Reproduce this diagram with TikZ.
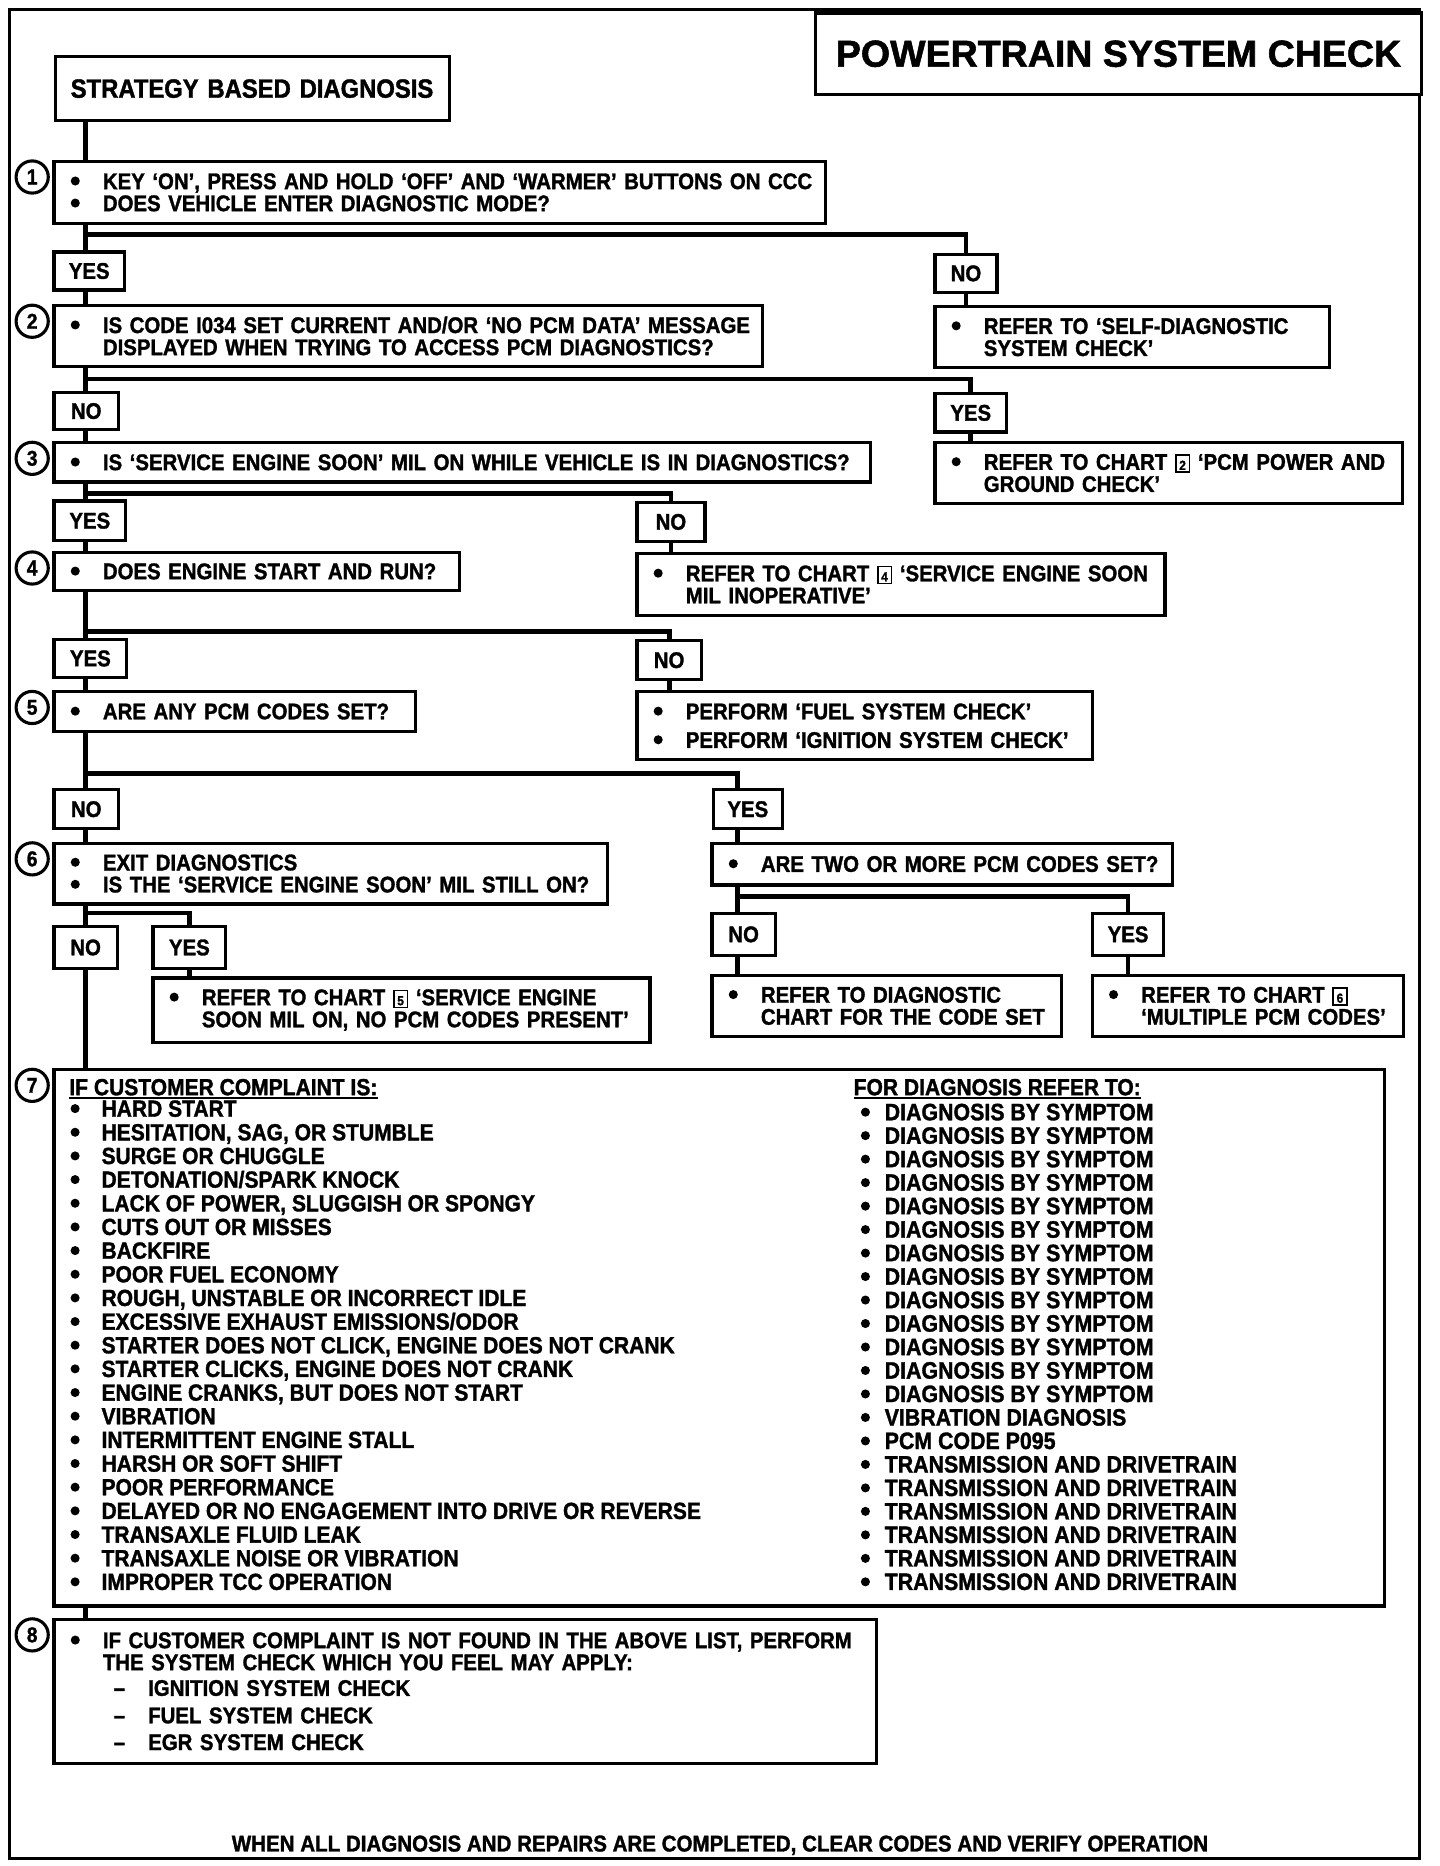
\documentclass[tikz,border=0pt]{standalone}
\usepackage{fontspec}
\setmainfont{Liberation Sans}[FakeStretch=0.9, BoldFeatures={FakeBold=1.4}]
\newfontfamily\ttlfam{Liberation Sans}[BoldFeatures={FakeBold=1.4}]
\usetikzlibrary{calc}

\newcommand\bodyfont{\fontsize{19}{18.5}\selectfont\bfseries}
\newcommand\listfont{\fontsize{19.6}{18.5}\selectfont\bfseries}
\newcommand\rlistfont{\fontsize{19.9}{18.5}\selectfont\bfseries}
\newcommand\dotb{\tikz[baseline=0pt]\fill (0pt,0pt) ++(3.8pt,6.8pt) circle[radius=3.8pt];}
\newcommand\bl[1]{\mbox{\makebox[27pt][l]{\dotb}#1}}
\newcommand\cl[1]{\mbox{\hspace*{27pt}#1}}
\newcommand\dl[1]{\mbox{\hspace*{36pt}\makebox[29pt][l]{\textendash}#1}}
\newcommand\chartno[1]{{\setlength{\fboxsep}{0.6pt}\setlength{\fboxrule}{1.4pt}\fbox{\makebox[9pt][c]{\rule[-0.5pt]{0pt}{11.5pt}\fontsize{11}{11}\selectfont#1}}}}

\tikzset{
 bx/.style={draw, line width=2.7pt, anchor=north west, inner sep=0pt, align=left, font=\bodyfont},
 lbl/.style={draw, line width=2.7pt, anchor=north west, inner sep=0pt, font=\bodyfont},
 conn/.style={line width=4pt},
 num/.style={draw, circle, line width=2.6pt, minimum size=27pt, inner sep=0pt, font=\fontsize{18}{18}\selectfont\bfseries},
 item/.style={anchor=west, inner sep=0pt, text height=13.6pt, text depth=0pt, font=\listfont},
}

\begin{document}
\begin{tikzpicture}[x=1pt,y=-1pt]
\useasboundingbox (0,0) rectangle (1208,1565.4);
\fill[white] (0,0) rectangle (1208,1565.4);
% frame
\draw[line width=2.7pt] (8,8) rectangle (1191,1559);
\node[draw, line width=2.7pt, anchor=north west, minimum width=508pt, minimum height=68.5pt, inner sep=0pt, fill=white, font=\ttlfam\fontsize{31.5}{32}\selectfont\bfseries] (title) at (683,9.5) {POWERTRAIN SYSTEM CHECK};

\coordinate (tr) at (72,0);
\coordinate (tr2) at (619,0);

% left column boxes
\node[bx, minimum width=331pt, minimum height=54pt, text width=305pt, font=\fontsize{22.2}{22}\selectfont\bfseries] (s) at (45,46) {\mbox{STRATEGY BASED DIAGNOSIS}};
\node[bx, minimum width=647pt, minimum height=52pt, text width=619pt] (b1) at (44,134) {\bl{KEY `ON', PRESS AND HOLD `OFF' AND `WARMER' BUTTONS ON CCC}\\\bl{DOES VEHICLE ENTER DIAGNOSTIC MODE?}};
\node[lbl, minimum width=59pt, minimum height=32pt] (yes1) at (44,210) {YES};
\node[lbl, minimum width=52pt, minimum height=32pt] (no1) at (783,212) {NO};
\node[bx, minimum width=331pt, minimum height=51pt, text width=303pt] (r1) at (783,256) {\bl{REFER TO `SELF-DIAGNOSTIC}\\\cl{SYSTEM CHECK'}};

\node[bx, minimum width=594pt, minimum height=51pt, text width=566pt] (b2) at (44,255) {\bl{IS CODE I034 SET CURRENT AND/OR `NO PCM DATA' MESSAGE}\\\cl{DISPLAYED WHEN TRYING TO ACCESS PCM DIAGNOSTICS?}};
\node[lbl, minimum width=54pt, minimum height=31pt] (no2) at (44,328) {NO};
\node[lbl, minimum width=60pt, minimum height=32pt] (yes2) at (783,329) {YES};
\node[bx, minimum width=392pt, minimum height=51pt, text width=364pt] (r2) at (783,370) {\bl{REFER TO CHART \chartno{2} `PCM POWER AND}\\\cl{GROUND CHECK'}};

\node[bx, minimum width=685pt, minimum height=33pt, text width=657pt] (b3) at (44,370) {\bl{IS `SERVICE ENGINE SOON' MIL ON WHILE VEHICLE IS IN DIAGNOSTICS?}};
\node[lbl, minimum width=60pt, minimum height=33pt] (yes3) at (44,419) {YES};
\node[lbl, minimum width=57pt, minimum height=33pt] (no3) at (533,420) {NO};
\node[bx, minimum width=443pt, minimum height=52pt, text width=415pt] (r3) at (533,463) {\bl{REFER TO CHART \chartno{4} `SERVICE ENGINE SOON}\\\cl{MIL INOPERATIVE'}};

\node[bx, minimum width=340pt, minimum height=32pt, text width=312pt] (b4) at (44,462) {\bl{DOES ENGINE START AND RUN?}};
\node[lbl, minimum width=61pt, minimum height=32pt] (yes4) at (44,535) {YES};
\node[lbl, minimum width=54pt, minimum height=33pt] (no4) at (533,536) {NO};
\node[bx, minimum width=382pt, minimum height=57pt, text width=354pt] (r4) at (533,579) {\bl{PERFORM `FUEL SYSTEM CHECK'}\\[5.5pt]\bl{PERFORM `IGNITION SYSTEM CHECK'}};

\node[bx, minimum width=303pt, minimum height=33pt, text width=275pt] (b5) at (44,579) {\bl{ARE ANY PCM CODES SET?}};
\node[lbl, minimum width=54pt, minimum height=33pt] (no5) at (44,661) {NO};
\node[lbl, minimum width=58pt, minimum height=33pt] (yes5) at (597,661) {YES};
\node[bx, minimum width=386pt, minimum height=35pt, text width=358pt] (q) at (596,706) {\bl{ARE TWO OR MORE PCM CODES SET?}};
\node[lbl, minimum width=53pt, minimum height=35pt] (qno) at (596,765) {NO};
\node[lbl, minimum width=60pt, minimum height=35pt] (qyes) at (915,765) {YES};
\node[bx, minimum width=293pt, minimum height=51pt, text width=265pt] (qr1) at (596,817) {\bl{REFER TO DIAGNOSTIC}\\\cl{CHART FOR THE CODE SET}};
\node[bx, minimum width=261pt, minimum height=51pt, text width=233pt] (qr2) at (915,817) {\bl{REFER TO CHART \chartno{6}}\\\cl{`MULTIPLE PCM CODES'}};

\node[bx, minimum width=464pt, minimum height=51pt, text width=436pt] (b6) at (44,706) {\bl{EXIT DIAGNOSTICS}\\\bl{IS THE `SERVICE ENGINE SOON' MIL STILL ON?}};
\node[lbl, minimum width=53pt, minimum height=35pt] (no6) at (44,776) {NO};
\node[lbl, minimum width=61pt, minimum height=35pt] (yes6) at (127,776) {YES};
\node[bx, minimum width=417pt, minimum height=54pt, text width=389pt] (r6) at (127,819) {\bl{REFER TO CHART \chartno{5} `SERVICE ENGINE}\\\cl{SOON MIL ON, NO PCM CODES PRESENT'}};

\node[bx, minimum width=1116pt, minimum height=450pt] (b7) at (44,896) {};
\node[bx, minimum width=690pt, minimum height=121pt, text width=662pt] (b8) at (44,1357) {\bl{IF CUSTOMER COMPLAINT IS NOT FOUND IN THE ABOVE LIST, PERFORM}\\\cl{THE SYSTEM CHECK WHICH YOU FEEL MAY APPLY:}\\[3pt]\dl{IGNITION SYSTEM CHECK}\\[4.5pt]\dl{FUEL SYSTEM CHECK}\\[4pt]\dl{EGR SYSTEM CHECK}};

% circled step numbers
\node[num] (c1) at (27,148.5) {1};
\node[num] (c2) at (27,269.5) {2};
\node[num] (c3) at (27,384.5) {3};
\node[num] (c4) at (27,476.5) {4};
\node[num] (c5) at (27,593.5) {5};
\node[num] (c6) at (27,720.5) {6};
\node[num] (c7) at (27,910.5) {7};
\node[num] (c8) at (27,1371.5) {8};

% list in box 7
\node[item] (h7l) at (58,912) {IF CUSTOMER COMPLAINT IS:};
\draw[line width=1.7pt] ([yshift=-2.5pt]h7l.south west) -- ([yshift=-2.5pt]h7l.south east);
\node[item] (h7r) at (716,912) {FOR DIAGNOSIS REFER TO:};
\draw[line width=1.7pt] ([yshift=-2.5pt]h7r.south west) -- ([yshift=-2.5pt]h7r.south east);

\foreach \t [count=\i] in {HARD START, {HESITATION, SAG, OR STUMBLE}, SURGE OR CHUGGLE, DETONATION/SPARK KNOCK, {LACK OF POWER, SLUGGISH OR SPONGY}, CUTS OUT OR MISSES, BACKFIRE, POOR FUEL ECONOMY, {ROUGH, UNSTABLE OR INCORRECT IDLE}, EXCESSIVE EXHAUST EMISSIONS/ODOR, {STARTER DOES NOT CLICK, ENGINE DOES NOT CRANK}, {STARTER CLICKS, ENGINE DOES NOT CRANK}, {ENGINE CRANKS, BUT DOES NOT START}, VIBRATION, INTERMITTENT ENGINE STALL, HARSH OR SOFT SHIFT, POOR PERFORMANCE, DELAYED OR NO ENGAGEMENT INTO DRIVE OR REVERSE, TRANSAXLE FLUID LEAK, TRANSAXLE NOISE OR VIBRATION, IMPROPER TCC OPERATION}
  \node[item] (L\i) at ({59},{930+(\i-1)*19.85}) {\makebox[26pt][l]{\dotb}\t};

\foreach \t [count=\i] in {DIAGNOSIS BY SYMPTOM, DIAGNOSIS BY SYMPTOM, DIAGNOSIS BY SYMPTOM, DIAGNOSIS BY SYMPTOM, DIAGNOSIS BY SYMPTOM, DIAGNOSIS BY SYMPTOM, DIAGNOSIS BY SYMPTOM, DIAGNOSIS BY SYMPTOM, DIAGNOSIS BY SYMPTOM, DIAGNOSIS BY SYMPTOM, DIAGNOSIS BY SYMPTOM, DIAGNOSIS BY SYMPTOM, DIAGNOSIS BY SYMPTOM, VIBRATION DIAGNOSIS, PCM CODE P095, TRANSMISSION AND DRIVETRAIN, TRANSMISSION AND DRIVETRAIN, TRANSMISSION AND DRIVETRAIN, TRANSMISSION AND DRIVETRAIN, TRANSMISSION AND DRIVETRAIN, TRANSMISSION AND DRIVETRAIN}
  \node[item, font=\rlistfont] (R\i) at ({722},{933+(\i-1)*19.7}) {\makebox[20pt][l]{\dotb}\t};

% footer
\node[inner sep=0pt, font=\fontsize{19.15}{19}\selectfont\bfseries] (foot) at (604,1548) {WHEN ALL DIAGNOSIS AND REPAIRS ARE COMPLETED, CLEAR CODES AND VERIFY OPERATION};

% junctions
\coordinate (j1) at (72,197);
\coordinate (j2) at (72,318);
\coordinate (j3) at (72,414);
\coordinate (j4) at (72,530);
\coordinate (j5) at (72,649);
\coordinate (j6) at (72,766);
\coordinate (jq) at (619,752);

% trunk
\draw[conn] (s.south -| tr) -- (b1.north -| tr);
\draw[conn] (b1.south -| tr) -- (yes1.north -| tr);
\draw[conn] (yes1.south -| tr) -- (b2.north -| tr);
\draw[conn] (b2.south -| tr) -- (no2.north -| tr);
\draw[conn] (no2.south -| tr) -- (b3.north -| tr);
\draw[conn] (b3.south -| tr) -- (yes3.north -| tr);
\draw[conn] (yes3.south -| tr) -- (b4.north -| tr);
\draw[conn] (b4.south -| tr) -- (yes4.north -| tr);
\draw[conn] (yes4.south -| tr) -- (b5.north -| tr);
\draw[conn] (b5.south -| tr) -- (no5.north -| tr);
\draw[conn] (no5.south -| tr) -- (b6.north -| tr);
\draw[conn] (b6.south -| tr) -- (no6.north -| tr);
\draw[conn] (no6.south -| tr) -- (b7.north -| tr);
\draw[conn] (b7.south -| tr) -- (b8.north -| tr);

% branches
\draw[conn] (j1) -| (no1.north);
\draw[conn] (no1.south) -- (no1.south |- r1.north);
\draw[conn] (j2) -| (yes2.north);
\draw[conn] (yes2.south) -- (yes2.south |- r2.north);
\draw[conn] (j3) -| (no3.north);
\draw[conn] (no3.south) -- (no3.south |- r3.north);
\draw[conn] (j4) -| (no4.north);
\draw[conn] (no4.south) -- (no4.south |- r4.north);
\draw[conn] (j5) -| (yes5.north -| tr2);
\draw[conn] (yes5.south -| tr2) -- (q.north -| tr2);
\draw[conn] (q.south -| tr2) -- (qno.north -| tr2);
\draw[conn] (jq) -| (qyes.north);
\draw[conn] (qno.south -| tr2) -- (qr1.north -| tr2);
\draw[conn] (qyes.south) -- (qyes.south |- qr2.north);
\draw[conn] (j6) -| (yes6.north);
\draw[conn] (yes6.south) -- (yes6.south |- r6.north);
\end{tikzpicture}
\end{document}
